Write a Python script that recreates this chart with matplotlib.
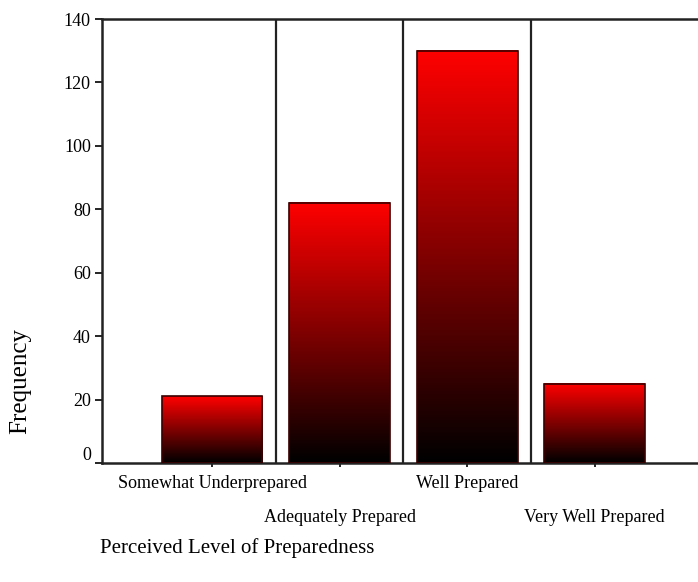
import matplotlib.pyplot as plt
import matplotlib.transforms as mtransforms
import numpy as np

categories = ["Somewhat Underprepared", "Adequately Prepared", "Well Prepared", "Very Well Prepared"]
frequency = [21, 82, 130, 25]
y_ticks = [0, 20, 40, 60, 80, 100, 120, 140]

plt.rcParams['font.family'] = ['Liberation Serif', 'DejaVu Serif']

fig = plt.figure(figsize=(6.98, 5.82), dpi=100)
ax = fig.add_axes([102 / 698, 1 - 463 / 582, 1 - 102 / 698, 444 / 582])

x = np.arange(len(categories))
bars = ax.bar(x, frequency, width=0.79, facecolor='none', edgecolor='#3a0000', linewidth=1.2, zorder=3)

# red-to-black fade inside each bar
grad = np.zeros((256, 1, 3))
grad[:, 0, 0] = np.linspace(0, 1, 256)
for b in bars:
    x0, w, h = b.get_x(), b.get_width(), b.get_height()
    ax.imshow(grad, extent=(x0, x0 + w, 0, h), origin='lower', aspect='auto', zorder=2)

# separators between categories
for s in x[:-1] + 0.5:
    ax.axvline(s, color='#222222', linewidth=1.6, zorder=1)

ax.set_xlim(-0.863, 3.81)
ax.set_ylim(0, 140)

ax.set_yticks(y_ticks)
ax.set_yticklabels([str(t) for t in y_ticks], fontsize=13)
ax.set_xticks(x)
ax.set_xticklabels(categories, fontsize=13)
ax.tick_params(axis='y', length=5, width=1.2, pad=3)
ax.tick_params(axis='x', length=3, width=1.2, pad=6)

# stagger the category labels on two rows
for i, lab in enumerate(ax.get_xticklabels()):
    if i % 2 == 1:
        lab.set_transform(lab.get_transform() + mtransforms.ScaledTranslation(0, -33 / 100, fig.dpi_scale_trans))
# lift the zero label off the baseline
zero = ax.get_yticklabels()[0]
zero.set_transform(zero.get_transform() + mtransforms.ScaledTranslation(0, 10 / 100, fig.dpi_scale_trans))

for side in ['left', 'bottom', 'top']:
    ax.spines[side].set_linewidth(1.8)
    ax.spines[side].set_color('#222222')
ax.spines['right'].set_visible(False)

fig.text(20 / 698, 1 - 381 / 582, "Frequency", rotation=90, ha='center', va='center', fontsize=18)
fig.text(100 / 698, 1 - 548 / 582, "Perceived Level of Preparedness", ha='left', va='center', fontsize=15)

fig.savefig("out.png", dpi=100)
